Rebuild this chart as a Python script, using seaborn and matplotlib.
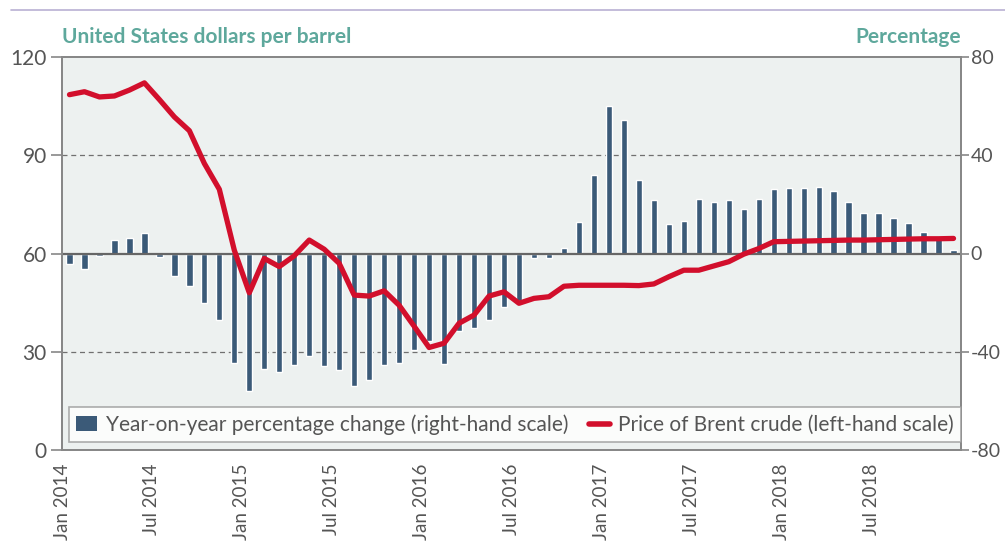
import numpy as np
import pandas as pd
import seaborn as sns
import matplotlib.pyplot as plt
from matplotlib.patches import Patch
from matplotlib.lines import Line2D

# Datos (mensual, ene 2014 - dic 2018)
meses = pd.date_range('2014-01-01', '2018-12-01', freq='MS')
variacion_pct = [-4.2, -6.5, -1.1, 5.4, 6.4, 8.4, -1.4, -9.0, -13.4, -20.1, -27.0, -44.5,
                 -55.8, -46.9, -48.3, -45.3, -41.9, -45.6, -47.5, -54.0, -51.6, -45.2, -44.6, -39.3,
                 -35.7, -44.8, -31.6, -30.5, -27.0, -21.7, -19.3, -2.0, -2.0, 2.4, 12.9, 31.8,
                 60.2, 54.3, 30.1, 21.7, 12.1, 13.4, 22.3, 20.8, 21.8, 18.2, 22.0, 26.2,
                 26.5, 26.7, 26.9, 25.6, 20.8, 16.3, 16.6, 14.5, 12.5, 8.7, 6.5, 1.6]
precio_brent = [108.5, 109.4, 107.8, 108.1, 109.9, 112.1, 107.0, 101.7, 97.5, 87.5, 79.6, 61.0,
                48.0, 58.5, 56.0, 59.3, 64.1, 61.3, 57.0, 47.3, 47.0, 48.6, 44.2, 37.8,
                31.3, 32.6, 38.7, 41.2, 47.0, 48.3, 44.8, 46.3, 46.8, 50.0, 50.3, 50.3,
                50.3, 50.3, 50.2, 50.7, 52.9, 54.9, 54.9, 56.2, 57.5, 59.8, 61.5, 63.6,
                63.7, 63.8, 63.9, 64.0, 64.1, 64.1, 64.2, 64.3, 64.4, 64.5, 64.5, 64.6]
etiquetas_x = ['Jan 2014', 'Jul 2014', 'Jan 2015', 'Jul 2015', 'Jan 2016',
               'Jul 2016', 'Jan 2017', 'Jul 2017', 'Jan 2018', 'Jul 2018', '']
ticks_pct = [-80, -40, 0, 40, 80]
ticks_usd = [0, 30, 60, 90, 120]

df = pd.DataFrame({'mes': np.arange(len(meses)), 'pct': variacion_pct, 'precio': precio_brent})

# Colores
azul = '#3b5a78'
rojo = '#d20f2c'
gris = '#555555'
verde = '#5ea89c'

sns.set_style('white')
plt.rcParams['font.family'] = ['Lato', 'DejaVu Sans']
plt.rcParams['axes.unicode_minus'] = False

fig = plt.figure(figsize=(10.05, 5.42), dpi=100)
ax = fig.add_axes([62/1005, 1 - 450/542, (961-62)/1005, (450-57)/542])
ax.set_facecolor('#edf1f0')

# Barras (escala derecha)
sns.barplot(data=df, x='mes', y='pct', ax=ax, color=azul, saturation=1, width=0.42, zorder=2)
ax.axhline(0, color='#666666', lw=1.6, zorder=3)
for v in (-40, 40):
    ax.axhline(v, color='#707070', lw=0.9, ls=(0, (4, 3)), zorder=1)
ax.set_ylim(-80, 80)
ax.set_yticks(ticks_pct)
ax.yaxis.tick_right()

# Linea (escala izquierda)
ax2 = ax.twinx()
sns.lineplot(data=df, x='mes', y='precio', ax=ax2, color=rojo, lw=3.8,
             solid_capstyle='round', solid_joinstyle='round', zorder=4)
ax2.set_ylim(0, 120)
ax2.set_yticks(ticks_usd)
ax2.yaxis.tick_left()

ax.set_xlim(-0.5, 59.5)
ax.set_xticks(np.arange(-0.5, 60, 6))
ax.set_xticklabels(etiquetas_x, rotation=90, va='top', ha='center')

for a in (ax, ax2):
    a.set_xlabel('')
    a.set_ylabel('')
    for s in a.spines.values():
        s.set_color('#888888')
        s.set_linewidth(1.4)
    a.tick_params(length=8, width=1.2, color='#888888', labelcolor=gris, labelsize=15, pad=3)
ax.tick_params(axis='x', labelsize=13.5, pad=2)
ax.tick_params(axis='y', left=False, right=True, labelleft=False, labelright=True,
               length=6, pad=1, labelsize=14)
ax2.tick_params(axis='y', left=True, right=False, labelleft=True, labelright=False)

# Leyenda
handles = [Patch(facecolor=azul, edgecolor='none'),
           Line2D([0], [0], color=rojo, lw=4, solid_capstyle='round')]
labels = ['Year-on-year percentage change (right-hand scale)',
          'Price of Brent crude (left-hand scale)']
leg = ax2.legend(handles, labels, loc='lower left', bbox_to_anchor=(0.008, 0.02),
                 borderaxespad=0, ncol=2, frameon=True, fancybox=False, fontsize=15,
                 handlelength=1.0, handletextpad=0.4, columnspacing=1.0,
                 borderpad=0.35)
leg.get_frame().set_edgecolor('#999999')
leg.get_frame().set_linewidth(1.2)
for t in leg.get_texts():
    t.set_color(gris)

# Titulos de ejes
fig.text(62/1005, 1 - 43/542, 'United States dollars per barrel', color=verde,
         fontsize=15, fontweight='bold', ha='left', va='baseline')
fig.text(961/1005, 1 - 43/542, 'Percentage', color=verde,
         fontsize=15, fontweight='bold', ha='right', va='baseline')

# Linea superior
fig.add_artist(Line2D([11/1005, 1], [1 - 10/542] * 2, color='#b9b0d3', lw=1.2))

fig.savefig('out.png', dpi=100)
